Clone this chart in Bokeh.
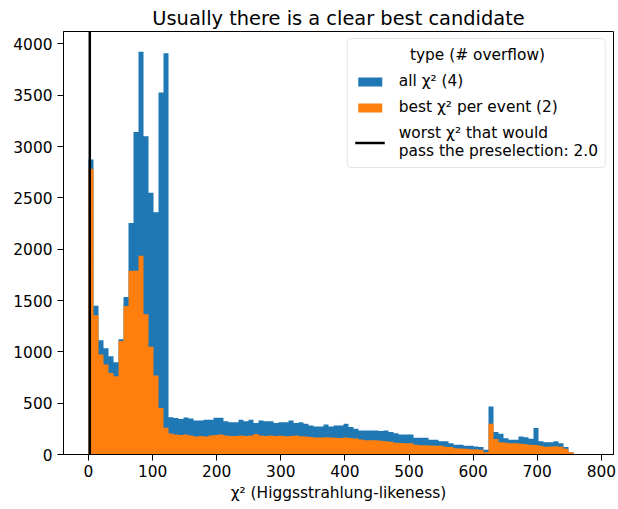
import numpy as np
from bokeh.plotting import figure
from bokeh.models import Legend, LegendItem, Label, FixedTicker, Range1d
from bokeh.embed import file_html
from bokeh.resources import INLINE

# Histogram binning of the chi^2 values
bin_lo, bin_hi, n_bins = 0.0, 780.0, 100

# Counts per bin: every candidate of every event
all_counts = [
    2875, 1450, 1112, 1034, 958, 900, 1122, 1535, 2256, 3143,
    3925, 3100, 2550, 2360, 3528, 3909, 364, 355, 345, 360,
    350, 332, 332, 338, 338, 358, 358, 325, 315, 315,
    338, 325, 338, 306, 332, 325, 325, 306, 315, 315,
    332, 306, 315, 299, 283, 273, 273, 293, 273, 283,
    283, 299, 267, 250, 234, 234, 234, 234, 228, 234,
    218, 208, 195, 195, 195, 163, 163, 163, 143, 143,
    130, 130, 110, 94, 94, 85, 85, 78, 72, 46,
    468, 218, 202, 159, 143, 143, 176, 169, 153, 257,
    130, 120, 120, 130, 110, 72, 23, 4, 0, 0,
]

# Counts per bin: only the best candidate of each event
best_counts = [
    2785, 1356, 975, 877, 795, 763, 1105, 1447, 1790, 1790,
    1936, 1366, 1050, 770, 453, 260, 205, 195, 190, 195,
    185, 175, 180, 175, 185, 190, 195, 185, 180, 180,
    185, 180, 185, 200, 185, 180, 185, 180, 182, 178,
    180, 185, 178, 175, 170, 165, 165, 168, 165, 162,
    160, 165, 160, 155, 145, 140, 140, 138, 135, 130,
    125, 115, 112, 110, 110, 95, 90, 90, 88, 85,
    85, 75, 72, 60, 58, 55, 52, 50, 46, 23,
    299, 150, 120, 115, 110, 110, 105, 100, 95, 92,
    85, 75, 78, 80, 75, 55, 22, 3, 0, 0,
]

overflow_all = 4
overflow_best = 2
chi2_cut = 2.0

x_ticks = [0, 100, 200, 300, 400, 500, 600, 700, 800]
y_ticks = [0, 500, 1000, 1500, 2000, 2500, 3000, 3500, 4000]

BLUE = "#1f77b4"
ORANGE = "#ff7f0e"
FONT = "DejaVu Sans"
SIZE = "15.4px"

edges = np.linspace(bin_lo, bin_hi, n_bins + 1)
span = bin_hi - bin_lo
x_range = Range1d(bin_lo - 0.05 * span, bin_hi + 0.05 * span)
y_top = max(all_counts) * 1.05
y_range = Range1d(0, y_top)

p = figure(
    width=618, height=509,
    x_range=x_range, y_range=y_range,
    output_backend="svg", toolbar_location=None,
    title="Usually there is a clear best candidate",
    min_border_left=63, min_border_right=5,
    min_border_top=31, min_border_bottom=55,
)
p.background_fill_color = "white"
p.border_fill_color = "white"
p.outline_line_color = "black"
p.outline_line_width = 1
p.grid.visible = False

p.title.align = "center"
p.title.text_font = FONT
p.title.text_font_size = "19.4px"
p.title.text_font_style = "normal"
p.title.text_color = "black"
p.title.standoff = 4

for ax in (p.xaxis[0], p.yaxis[0]):
    ax.major_label_text_font = FONT
    ax.major_label_text_font_size = SIZE
    ax.major_label_text_color = "black"
    ax.axis_line_color = "black"
    ax.major_tick_line_color = "black"
    ax.major_tick_out = 6
    ax.major_tick_in = 0
    ax.minor_tick_line_color = None
    ax.axis_label_text_font = FONT
    ax.axis_label_text_font_style = "normal"
    ax.axis_label_text_font_size = SIZE
    ax.axis_label_text_color = "black"

p.xaxis.ticker = FixedTicker(ticks=x_ticks)
p.yaxis.ticker = FixedTicker(ticks=y_ticks)
p.xaxis.axis_label = "χ² (Higgsstrahlung-likeness)"
p.xaxis.axis_label_standoff = 4
p.xaxis.major_label_standoff = 4
p.yaxis.major_label_standoff = 5

# step-filled histograms, best candidate drawn over all candidates
r_all = p.varea_step(x=edges, y1=0, y2=all_counts + [all_counts[-1]],
                     step_mode="after", fill_color=BLUE)
r_best = p.varea_step(x=edges, y1=0, y2=best_counts + [best_counts[-1]],
                      step_mode="after", fill_color=ORANGE)

# preselection threshold
r_cut = p.line(x=[chi2_cut, chi2_cut], y=[0, y_top], line_color="black", line_width=2.5)

legend = Legend(
    items=[
        LegendItem(label=f"all χ² ({overflow_all})", renderers=[r_all]),
        LegendItem(label=f"best χ² per event ({overflow_best})", renderers=[r_best]),
        LegendItem(label=f"worst χ² that would\npass the preselection: {chi2_cut}",
                   renderers=[r_cut]),
    ],
    location="top_right",
    title=" ",
    title_text_font_size=SIZE,
    title_standoff=8,
    label_text_font=FONT,
    label_text_font_size=SIZE,
    label_text_color="black",
    glyph_width=30,
    glyph_height=11,
    label_standoff=14,
    spacing=8,
    padding=7,
    margin=7,
    border_line_color="#cccccc",
    border_line_width=1,
    border_radius=4,
    background_fill_color=None,
)
p.add_layout(legend)

# legend heading, centred over the legend box (frame-relative screen units)
heading = Label(
    x=414, y=400, x_units="screen", y_units="screen",
    text="type (# overflow)", text_font=FONT, text_font_size=SIZE,
    text_align="center", text_baseline="middle", text_color="black",
    level="overlay",
)
p.add_layout(heading)

open("out.html", "w").write(file_html(p, INLINE))
